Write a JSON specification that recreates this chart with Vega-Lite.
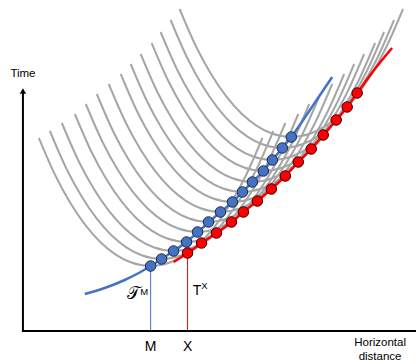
{
  "$schema": "https://vega.github.io/schema/vega-lite/v6.json",
  "width": 417,
  "height": 364,
  "autosize": {"type": "fit", "contains": "padding"},
  "padding": 0,
  "background": "white",
  "view": {"stroke": null},
  "config": {"font": "Liberation Sans"},
  "datasets": {
    "gray": [
      {"c":1,"x":39,"y":138},{"c":1,"x":56,"y":176.5},{"c":1,"x":71,"y":203.8},{"c":1,"x":86,"y":225.7},{"c":1,"x":101,"y":242.5},{"c":1,"x":116,"y":254.6},{"c":1,"x":131,"y":262.3},{"c":1,"x":151,"y":266},{"c":1,"x":171,"y":262.3},{"c":1,"x":186,"y":254.6},{"c":1,"x":201,"y":242.5},{"c":1,"x":216,"y":225.7},{"c":1,"x":231,"y":203.8},{"c":1,"x":246,"y":176.5},{"c":1,"x":263,"y":138},
      {"c":2,"x":50,"y":131},{"c":2,"x":67,"y":169.5},{"c":2,"x":82,"y":196.8},{"c":2,"x":97,"y":218.7},{"c":2,"x":112,"y":235.5},{"c":2,"x":127,"y":247.6},{"c":2,"x":142,"y":255.3},{"c":2,"x":162,"y":259},{"c":2,"x":182,"y":255.3},{"c":2,"x":197,"y":247.6},{"c":2,"x":212,"y":235.5},{"c":2,"x":227,"y":218.7},{"c":2,"x":242,"y":196.8},{"c":2,"x":257,"y":169.5},{"c":2,"x":274,"y":131},
      {"c":3,"x":62,"y":123},{"c":3,"x":79,"y":161.5},{"c":3,"x":94,"y":188.8},{"c":3,"x":109,"y":210.7},{"c":3,"x":124,"y":227.5},{"c":3,"x":139,"y":239.6},{"c":3,"x":154,"y":247.3},{"c":3,"x":174,"y":251},{"c":3,"x":194,"y":247.3},{"c":3,"x":209,"y":239.6},{"c":3,"x":224,"y":227.5},{"c":3,"x":239,"y":210.7},{"c":3,"x":254,"y":188.8},{"c":3,"x":269,"y":161.5},{"c":3,"x":286,"y":123},
      {"c":4,"x":75,"y":114},{"c":4,"x":92,"y":152.5},{"c":4,"x":107,"y":179.8},{"c":4,"x":122,"y":201.7},{"c":4,"x":137,"y":218.5},{"c":4,"x":152,"y":230.6},{"c":4,"x":167,"y":238.3},{"c":4,"x":187,"y":242},{"c":4,"x":207,"y":238.3},{"c":4,"x":222,"y":230.6},{"c":4,"x":237,"y":218.5},{"c":4,"x":252,"y":201.7},{"c":4,"x":267,"y":179.8},{"c":4,"x":282,"y":152.5},{"c":4,"x":299,"y":114},
      {"c":5,"x":86,"y":104},{"c":5,"x":103,"y":142.5},{"c":5,"x":118,"y":169.8},{"c":5,"x":133,"y":191.7},{"c":5,"x":148,"y":208.5},{"c":5,"x":163,"y":220.6},{"c":5,"x":178,"y":228.3},{"c":5,"x":198,"y":232},{"c":5,"x":218,"y":228.3},{"c":5,"x":233,"y":220.6},{"c":5,"x":248,"y":208.5},{"c":5,"x":263,"y":191.7},{"c":5,"x":278,"y":169.8},{"c":5,"x":293,"y":142.5},{"c":5,"x":310,"y":104},
      {"c":6,"x":97,"y":94},{"c":6,"x":114,"y":132.5},{"c":6,"x":129,"y":159.8},{"c":6,"x":144,"y":181.7},{"c":6,"x":159,"y":198.5},{"c":6,"x":174,"y":210.6},{"c":6,"x":189,"y":218.3},{"c":6,"x":209,"y":222},{"c":6,"x":229,"y":218.3},{"c":6,"x":244,"y":210.6},{"c":6,"x":259,"y":198.5},{"c":6,"x":274,"y":181.7},{"c":6,"x":289,"y":159.8},{"c":6,"x":304,"y":132.5},{"c":6,"x":321,"y":94},
      {"c":7,"x":109,"y":84},{"c":7,"x":126,"y":122.5},{"c":7,"x":141,"y":149.8},{"c":7,"x":156,"y":171.7},{"c":7,"x":171,"y":188.5},{"c":7,"x":186,"y":200.6},{"c":7,"x":201,"y":208.3},{"c":7,"x":221,"y":212},{"c":7,"x":241,"y":208.3},{"c":7,"x":256,"y":200.6},{"c":7,"x":271,"y":188.5},{"c":7,"x":286,"y":171.7},{"c":7,"x":301,"y":149.8},{"c":7,"x":316,"y":122.5},{"c":7,"x":333,"y":84},
      {"c":8,"x":121,"y":74},{"c":8,"x":138,"y":112.5},{"c":8,"x":153,"y":139.8},{"c":8,"x":168,"y":161.7},{"c":8,"x":183,"y":178.5},{"c":8,"x":198,"y":190.6},{"c":8,"x":213,"y":198.3},{"c":8,"x":233,"y":202},{"c":8,"x":253,"y":198.3},{"c":8,"x":268,"y":190.6},{"c":8,"x":283,"y":178.5},{"c":8,"x":298,"y":161.7},{"c":8,"x":313,"y":139.8},{"c":8,"x":328,"y":112.5},{"c":8,"x":345,"y":74},
      {"c":9,"x":131,"y":64},{"c":9,"x":148,"y":102.5},{"c":9,"x":163,"y":129.8},{"c":9,"x":178,"y":151.7},{"c":9,"x":193,"y":168.5},{"c":9,"x":208,"y":180.6},{"c":9,"x":223,"y":188.3},{"c":9,"x":243,"y":192},{"c":9,"x":263,"y":188.3},{"c":9,"x":278,"y":180.6},{"c":9,"x":293,"y":168.5},{"c":9,"x":308,"y":151.7},{"c":9,"x":323,"y":129.8},{"c":9,"x":338,"y":102.5},{"c":9,"x":355,"y":64},
      {"c":10,"x":141,"y":54},{"c":10,"x":158,"y":92.5},{"c":10,"x":173,"y":119.8},{"c":10,"x":188,"y":141.7},{"c":10,"x":203,"y":158.5},{"c":10,"x":218,"y":170.6},{"c":10,"x":233,"y":178.3},{"c":10,"x":253,"y":182},{"c":10,"x":273,"y":178.3},{"c":10,"x":288,"y":170.6},{"c":10,"x":303,"y":158.5},{"c":10,"x":318,"y":141.7},{"c":10,"x":333,"y":119.8},{"c":10,"x":348,"y":92.5},{"c":10,"x":365,"y":54},
      {"c":11,"x":152,"y":43},{"c":11,"x":169,"y":81.5},{"c":11,"x":184,"y":108.8},{"c":11,"x":199,"y":130.7},{"c":11,"x":214,"y":147.5},{"c":11,"x":229,"y":159.6},{"c":11,"x":244,"y":167.3},{"c":11,"x":264,"y":171},{"c":11,"x":284,"y":167.3},{"c":11,"x":299,"y":159.6},{"c":11,"x":314,"y":147.5},{"c":11,"x":329,"y":130.7},{"c":11,"x":344,"y":108.8},{"c":11,"x":359,"y":81.5},{"c":11,"x":376,"y":43},
      {"c":12,"x":161,"y":32},{"c":12,"x":178,"y":70.5},{"c":12,"x":193,"y":97.8},{"c":12,"x":208,"y":119.7},{"c":12,"x":223,"y":136.5},{"c":12,"x":238,"y":148.6},{"c":12,"x":253,"y":156.3},{"c":12,"x":273,"y":160},{"c":12,"x":293,"y":156.3},{"c":12,"x":308,"y":148.6},{"c":12,"x":323,"y":136.5},{"c":12,"x":338,"y":119.7},{"c":12,"x":353,"y":97.8},{"c":12,"x":368,"y":70.5},{"c":12,"x":385,"y":32},
      {"c":13,"x":171,"y":20},{"c":13,"x":188,"y":58.5},{"c":13,"x":203,"y":85.8},{"c":13,"x":218,"y":107.7},{"c":13,"x":233,"y":124.5},{"c":13,"x":248,"y":136.6},{"c":13,"x":263,"y":144.3},{"c":13,"x":283,"y":148},{"c":13,"x":303,"y":144.3},{"c":13,"x":318,"y":136.6},{"c":13,"x":333,"y":124.5},{"c":13,"x":348,"y":107.7},{"c":13,"x":363,"y":85.8},{"c":13,"x":378,"y":58.5},{"c":13,"x":395,"y":20},
      {"c":14,"x":180,"y":9},{"c":14,"x":197,"y":47.5},{"c":14,"x":212,"y":74.8},{"c":14,"x":227,"y":96.7},{"c":14,"x":242,"y":113.5},{"c":14,"x":257,"y":125.6},{"c":14,"x":272,"y":133.3},{"c":14,"x":292,"y":137},{"c":14,"x":312,"y":133.3},{"c":14,"x":327,"y":125.6},{"c":14,"x":342,"y":113.5},{"c":14,"x":357,"y":96.7},{"c":14,"x":372,"y":74.8},{"c":14,"x":387,"y":47.5},{"c":14,"x":404,"y":9}
    ],
    "blueline": [
      {"x":85,"y":294},{"x":105,"y":288},{"x":125,"y":280},{"x":140,"y":272.5},{"x":151,"y":266},{"x":162,"y":259},{"x":174,"y":251},{"x":187,"y":242},{"x":198,"y":232.5},{"x":209,"y":222.5},{"x":221,"y":212},{"x":233,"y":202},{"x":243,"y":192},{"x":253,"y":182},{"x":264,"y":171},{"x":273,"y":160},{"x":283,"y":148},{"x":292,"y":137},{"x":312,"y":108},{"x":333,"y":77}
    ],
    "redline": [
      {"x":174,"y":262},{"x":188,"y":253},{"x":202,"y":243},{"x":217,"y":233},{"x":232,"y":222},{"x":244,"y":212},{"x":258,"y":201},{"x":272,"y":189},{"x":286,"y":176},{"x":299,"y":162},{"x":312,"y":149},{"x":324,"y":135},{"x":337,"y":120},{"x":348,"y":107},{"x":358,"y":93},{"x":375,"y":70},{"x":393,"y":48}
    ],
    "bluedots": [
      {"x":151,"y":266},{"x":162,"y":259},{"x":174,"y":251},{"x":187,"y":242},{"x":198,"y":232},{"x":209,"y":222},{"x":221,"y":212},{"x":233,"y":202},{"x":243,"y":192},{"x":253,"y":182},{"x":264,"y":171},{"x":273,"y":160},{"x":283,"y":148},{"x":292,"y":137}
    ],
    "reddots": [
      {"x":188,"y":253},{"x":202,"y":243},{"x":217,"y":233},{"x":232,"y":222},{"x":244,"y":212},{"x":258,"y":201},{"x":272,"y":189},{"x":286,"y":176},{"x":299,"y":162},{"x":312,"y":149},{"x":324,"y":135},{"x":337,"y":120},{"x":348,"y":107},{"x":358,"y":93}
    ]
  },
  "encoding": {
    "x": {"field": "x", "type": "quantitative", "axis": null, "scale": {"domain": [0, 417], "nice": false, "zero": false}},
    "y": {"field": "y", "type": "quantitative", "axis": null, "scale": {"domain": [0, 364], "nice": false, "zero": false, "reverse": true}}
  },
  "layer": [
    {
      "data": {"name": "gray"},
      "mark": {"type": "line", "interpolate": "monotone", "stroke": "#A6A6A6", "strokeWidth": 2},
      "encoding": {"detail": {"field": "c", "type": "nominal"}}
    },
    {
      "data": {"name": "blueline"},
      "mark": {"type": "line", "interpolate": "monotone", "stroke": "#4472C4", "strokeWidth": 2.5},
      "encoding": {}
    },
    {
      "data": {"name": "redline"},
      "mark": {"type": "line", "interpolate": "monotone", "stroke": "#FF0000", "strokeWidth": 2.5},
      "encoding": {}
    },
    {
      "data": {"values": [{"x": 151, "y": 266, "x2": 151, "y2": 331}]},
      "mark": {"type": "rule", "stroke": "#4472C4", "strokeWidth": 1},
      "encoding": {"x2": {"field": "x2"}, "y2": {"field": "y2"}}
    },
    {
      "data": {"values": [{"x": 188, "y": 253, "x2": 188, "y2": 331}]},
      "mark": {"type": "rule", "stroke": "#FF0000", "strokeWidth": 1},
      "encoding": {"x2": {"field": "x2"}, "y2": {"field": "y2"}}
    },
    {
      "data": {"values": [{"x": 23, "y": 92, "x2": 23, "y2": 332}, {"x": 22, "y": 331, "x2": 417, "y2": 331}]},
      "mark": {"type": "rule", "stroke": "black", "strokeWidth": 2},
      "encoding": {"x2": {"field": "x2"}, "y2": {"field": "y2"}}
    },
    {
      "data": {"values": [{"x": 23, "y": 91}]},
      "mark": {"type": "point", "shape": "triangle-up", "filled": true, "fill": "black", "stroke": null, "size": 40, "opacity": 1},
      "encoding": {}
    },
    {
      "data": {"name": "bluedots"},
      "mark": {"type": "point", "shape": "circle", "filled": true, "fill": "#4472C4", "stroke": "#1F2A44", "strokeWidth": 1, "size": 110, "opacity": 1},
      "encoding": {}
    },
    {
      "data": {"name": "reddots"},
      "mark": {"type": "point", "shape": "circle", "filled": true, "fill": "#FF0000", "stroke": "#3A0000", "strokeWidth": 1, "size": 110, "opacity": 1},
      "encoding": {}
    },
    {
      "data": {"values": [{"x": 23, "y": 74, "t": "Time"}, {"x": 381, "y": 343, "t": "Horizontal"}, {"x": 381, "y": 357, "t": "distance"}]},
      "mark": {"type": "text", "fontSize": 11.5, "align": "center", "baseline": "middle", "color": "black"},
      "encoding": {"text": {"field": "t"}}
    },
    {
      "data": {"values": [{"x": 151, "y": 347, "t": "M"}, {"x": 188, "y": 347, "t": "X"}, {"x": 197.5, "y": 290.5, "t": "T"}]},
      "mark": {"type": "text", "fontSize": 14, "align": "center", "baseline": "middle", "color": "black"},
      "encoding": {"text": {"field": "t"}}
    },
    {
      "data": {"values": [{"x": 205, "y": 286, "t": "X"}, {"x": 144.5, "y": 292, "t": "M"}]},
      "mark": {"type": "text", "fontSize": 9.5, "align": "center", "baseline": "middle", "color": "black"},
      "encoding": {"text": {"field": "t"}}
    },
    {
      "data": {"values": [{"x": 133.5, "y": 294, "t": "𝒯"}]},
      "mark": {"type": "text", "fontSize": 17, "font": "DejaVu Serif", "align": "center", "baseline": "middle", "color": "black"},
      "encoding": {"text": {"field": "t"}}
    }
  ]
}
